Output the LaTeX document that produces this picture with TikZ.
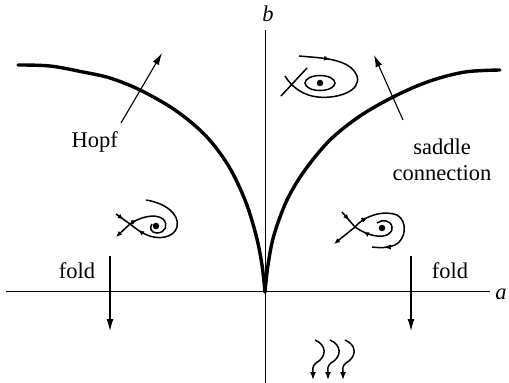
\documentclass[tikz,border=0pt]{standalone}
\usepackage{fontspec}
\setmainfont{Liberation Serif}
\usetikzlibrary{arrows.meta,decorations.markings}
\tikzset{
  axis/.style={line width=0.9pt},
  bif/.style={line width=3.4pt,line cap=round},
  bigarrow/.style={line width=1.1pt,-{Latex[length=12pt,width=7pt]}},
  orbit/.style={line width=1.5pt},
  tipout/.style={-{Latex[length=6pt,width=5pt]}},
  midarrow/.style={decoration={markings,mark=at position #1 with {\arrow{Latex[length=6pt,width=5pt]}}},postaction={decorate}},
  lbl/.style={font=\fontsize{22.5}{26}\selectfont, inner sep=0pt},
  eqpt/.style={circle,fill=black,inner sep=0pt,minimum size=6.5pt}
}
\begin{document}
\begin{tikzpicture}[x=1pt,y=-1pt]
\useasboundingbox (0,0) rectangle (509,383);
% axes
\coordinate (aL) at (6,291);
\coordinate (aR) at (490,291);
\coordinate (bT) at (265,30);
\coordinate (bB) at (265,383);
\draw[axis] (aL) -- (aR);
\draw[axis] (bT) -- (bB);
\node[lbl,font=\fontsize{22.5}{26}\selectfont\itshape] (alab) at (501,294) {a};
\node[lbl,font=\fontsize{22.5}{26}\selectfont\itshape] (blab) at (268,14) {b};
% bifurcation curves
\draw[bif] plot[smooth,tension=0.55] coordinates {(265,292) (262,265) (256,235) (245,200) (228,165) (205,135) (175,110) (140,90) (110,78) (83,72) (50,66) (18,65)};
\draw[bif] plot[smooth,tension=0.55] coordinates {(265,292) (268,265) (274,235) (287,200) (305,170) (330,140) (360,116) (395,96) (430,81) (465,72) (500,70)};
% labels and arrows
\node[lbl,anchor=east] (hopf) at (118,142) {Hopf};
\coordinate (hopfT) at (121,123);
\coordinate (hopfH) at (162,53);
\draw[bigarrow] (hopfT) -- (hopfH);
\node[lbl,align=center] (sc) at (442,160) {saddle\\connection};
\coordinate (scT) at (403,120);
\coordinate (scH) at (374,55);
\draw[bigarrow] (scT) -- (scH);
\node[lbl] (foldL) at (77,271) {fold};
\node[lbl] (foldR) at (450,271) {fold};
\coordinate (fLT) at (110,256);
\coordinate (fLH) at (110,331);
\coordinate (fRT) at (411,256);
\coordinate (fRH) at (411,331);
\draw[bigarrow] (fLT) -- (fLH);
\draw[bigarrow] (fRT) -- (fRH);
% top phase portrait
\node[eqpt] (dotT) at (320,83) {};
\draw[orbit] (dotT) ellipse (15 and 7.5);
\draw[orbit,midarrow=0.2] (299,56) .. controls (320,58) and (350,58) .. (357,76)
  .. controls (362,92) and (335,99) .. (318,97)
  .. controls (305,96) and (292,88) .. (285,76);
\coordinate (xTa) at (307,68);
\coordinate (xTb) at (281,96);
\draw[orbit] (xTa) -- (xTb);
% left phase portrait
\node[eqpt] (dotL) at (156,226) {};
\coordinate (sL) at (130,224);
\coordinate (sLul) at (116,214);
\coordinate (sLll) at (116,237);
\draw[orbit,midarrow=0.55] (sLul) -- (sL);
\draw[orbit,tipout] (sL) -- (sLll);
\draw[orbit,midarrow=0.12] (sL) .. controls (140,217) and (155,213) .. (163,219)
  .. controls (169,225) and (165,233) .. (157,233)
  .. controls (151,233) and (149,228) .. (152,224);
\draw[orbit,midarrow=0.9] (146,200) .. controls (165,203) and (180,214) .. (177,227)
  .. controls (174,238) and (158,240) .. (147,235)
  .. controls (140,232) and (135,228) .. (sL);
% right phase portrait
\node[eqpt] (dotR) at (382,228) {};
\coordinate (sR) at (355,227);
\coordinate (sRul) at (342,212);
\coordinate (sRll) at (334,244);
\draw[orbit,midarrow=0.55] (sRul) -- (sR);
\draw[orbit,tipout] (sR) -- (sRll);
\draw[orbit,midarrow=0.15,midarrow=0.88] (sR) .. controls (365,215) and (385,210) .. (397,215)
  .. controls (408,221) and (406,240) .. (395,245)
  .. controls (388,248) and (380,248) .. (372,247);
\draw[orbit,midarrow=0.85] (377,223) .. controls (382,219) and (391,220) .. (392,227)
  .. controls (393,234) and (385,237) .. (377,236)
  .. controls (368,235) and (361,231) .. (sR);
% bottom wavy arrows
\foreach \x [count=\i] in {313,328,343} {
  \coordinate (wT\i) at (\x+2,340);
  \coordinate (wB\i) at (\x,380);
  \draw[orbit,-{Latex[length=8pt,width=6pt]}] (wT\i) .. controls (\x+14,345) and (\x+14,357) .. (\x+3,363)
    .. controls (\x-1,366) and (\x,369) .. (wB\i);
}
\end{tikzpicture}
\end{document}
